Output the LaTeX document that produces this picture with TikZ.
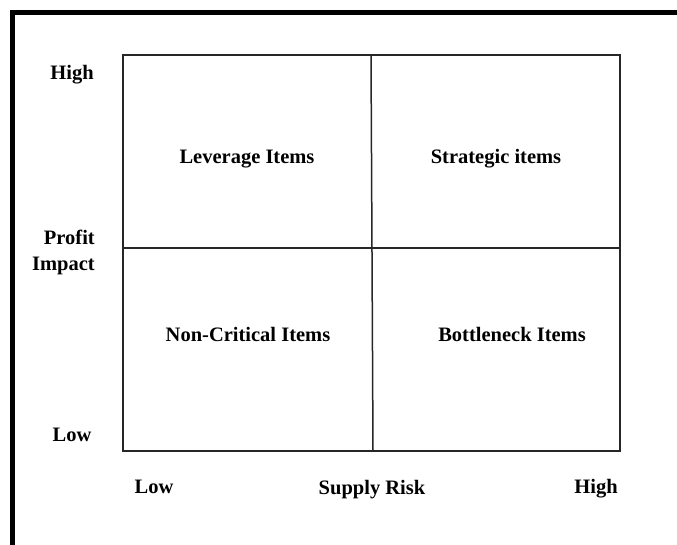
\documentclass[tikz,border=0pt]{standalone}
\usepackage{fontspec}
\setmainfont{Liberation Serif}
\begin{document}
\begin{tikzpicture}[x=1pt,y=-1pt,
  lbl/.style={font=\fontsize{20.5}{22}\selectfont\bfseries, text=black, inner sep=0pt, anchor=base},
  gridline/.style={line width=1.5pt, black!85}]
\useasboundingbox (0,0) rectangle (677,544);
% outer thick frame (right and bottom run off the picture)
\draw[line width=5pt, black] (12.5,560) -- (12.5,12.5) -- (700,12.5);
% matrix
\coordinate (tl) at (123,55);
\coordinate (br) at (620,451);
\draw[gridline] (tl) rectangle (br);
\coordinate (vt) at (371,55);
\coordinate (vb) at (373,451);
\coordinate (hl) at (123,248);
\coordinate (hr) at (620,248);
\draw[gridline] (vt) -- (vb);
\draw[gridline] (hl) -- (hr);
% axis labels
\node[lbl] (yhigh) at (72,79) {High};
\node[lbl, anchor=base east] (yprofit) at (95,244) {Profit};
\node[lbl, anchor=base east] (yimpact) at (95,270) {Impact};
\node[lbl] (ylow) at (72,441) {Low};
\node[lbl] (xlow) at (154,493) {Low};
\node[lbl] (xrisk) at (372,494) {Supply Risk};
\node[lbl] (xhigh) at (596,493) {High};
% quadrant labels
\node[lbl] (lev) at (247,163) {Leverage Items};
\node[lbl] (str) at (496,163) {Strategic items};
\node[lbl] (non) at (248,341) {Non-Critical Items};
\node[lbl] (bot) at (512,341) {Bottleneck Items};
\end{tikzpicture}
\end{document}
